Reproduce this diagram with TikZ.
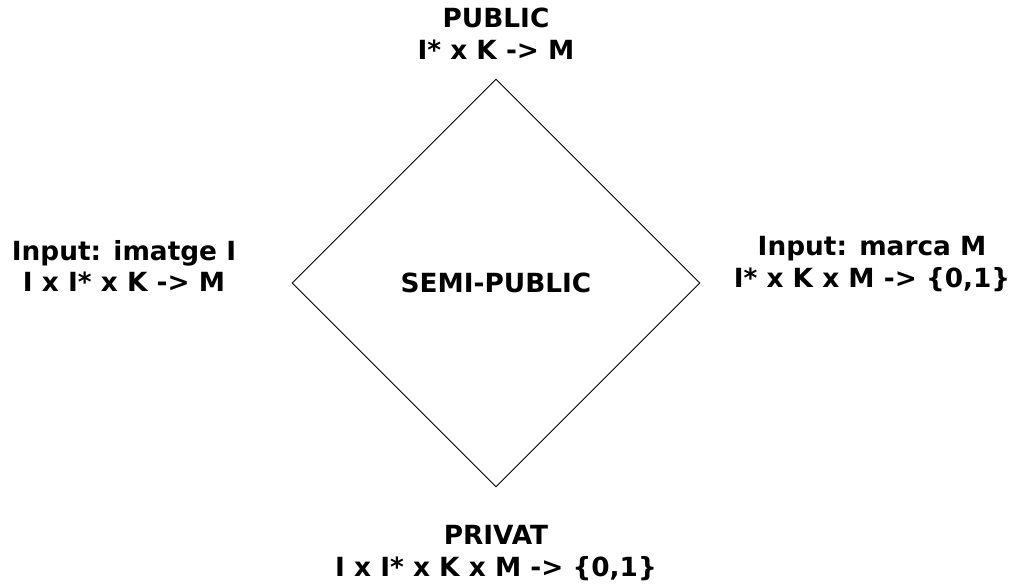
\documentclass[tikz,border=0pt]{standalone}
\usepackage{fontspec}
\setmainfont{DejaVu Sans}
\usepackage{tikz}
\usetikzlibrary{shapes.geometric}
\tikzstyle{label} = [align=center, inner sep=0pt, font=\fontsize{15}{18.2}\selectfont\bfseries]
\tikzstyle{rombe} = [diamond, draw=black, line width=0.5pt, minimum width=8.16cm, minimum height=8.16cm, inner sep=0pt, font=\fontsize{15}{18.2}\selectfont\bfseries]

\begin{document}
\begin{tikzpicture}[x=0.02cm,y=-0.02cm]
    \useasboundingbox (0,0) rectangle (1031,584);
    \node[rombe] (semipublic) at (496,283) {SEMI-PUBLIC};
    \node[label] (public) at (496,34) {PUBLIC\\I* x K -> M};
    \node[label] (privat) at (496,553) {PRIVAT\\I x I* x K x M -> \{0,1\}};
    \node[label] (imatge) at (124,266) {Input: imatge I\\I x I* x K -> M};
    \node[label] (marca) at (872,264) {Input: marca M\\I* x K x M -> \{0,1\}};
\end{tikzpicture}
\end{document}
